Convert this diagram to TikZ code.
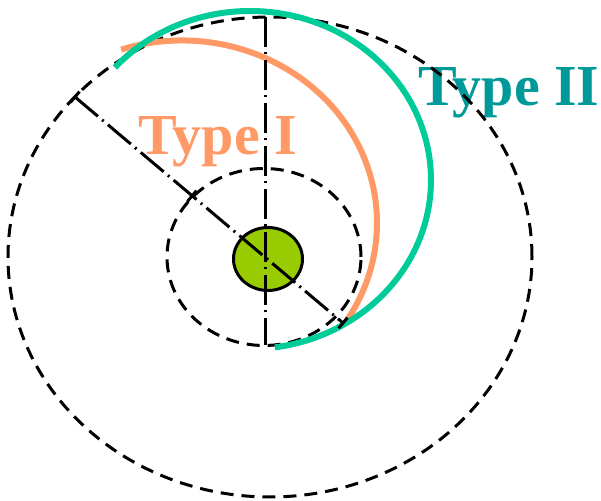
\documentclass[tikz,border=0pt]{standalone}
\usepackage{fontspec}
\setmainfont{Liberation Serif}
\usepackage{xcolor}
\usetikzlibrary{calc,positioning,shapes.geometric}

\definecolor{typeone}{HTML}{FF9966}
\definecolor{typetwo}{HTML}{00CC99}
\definecolor{typetwotext}{HTML}{009999}
\definecolor{corefill}{HTML}{99CC00}

\begin{document}
\begin{tikzpicture}[x=0.5pt, y=0.5pt,
    orbit/.style={draw=black, line width=1.5pt, dash pattern=on 6.5pt off 4pt},
    axis/.style={draw=black, line width=1.5pt, dash pattern=on 15pt off 2.75pt on 1pt off 2.75pt},
    tick/.style={draw=black, line width=1.5pt},
    path1/.style={draw=typeone, line width=3pt},
    path2/.style={draw=typetwo, line width=3pt},
    core/.style={ellipse, draw=black, line width=1.5pt, fill=corefill, minimum width=34.5pt, minimum height=31.5pt, inner sep=0pt},
    label/.style={font=\bfseries\fontsize{29}{35}\selectfont, inner sep=0pt, anchor=base west}
]
    \useasboundingbox (0,0) rectangle (601,501);

    \node[label, text=typeone] (typeI) at (138,346) {Type I};
    \node[label, text=typetwotext] (typeII) at (418,395) {Type II};

    \draw[orbit] (270,244) ellipse[x radius=262, y radius=240];
    \draw[orbit] (264,244) ellipse[x radius=97, y radius=88.5];

    \draw[path1] (182,278) ++(108.2:195 and 182.5) arc[start angle=108.2, end angle=-32.4, x radius=195, y radius=182.5];
    \draw[path2] (250,321) ++(138.3:181 and 169) arc[start angle=138.3, end angle=-82.1, x radius=181, y radius=169];

    \node[core] (nucleus) at (268,242) {};

    \coordinate (vtop) at (265,484);
    \coordinate (vbot) at (265,156);
    \coordinate (dout) at (75,404);
    \coordinate (din) at (192,305);
    \coordinate (dend) at (343,178);

    \draw[axis] (vtop) -- (vbot);
    \draw[axis] (dout) -- (dend);

    \draw[tick] ($(dout)!3.5pt!90:(dend)$) -- ($(dout)!3.5pt!-90:(dend)$);
    \draw[tick] ($(din)!3.5pt!90:(dend)$) -- ($(din)!3.5pt!-90:(dend)$);
    \draw[tick] ($(dend)!3.5pt!90:(dout)$) -- ($(dend)!3.5pt!-90:(dout)$);
\end{tikzpicture}
\end{document}
